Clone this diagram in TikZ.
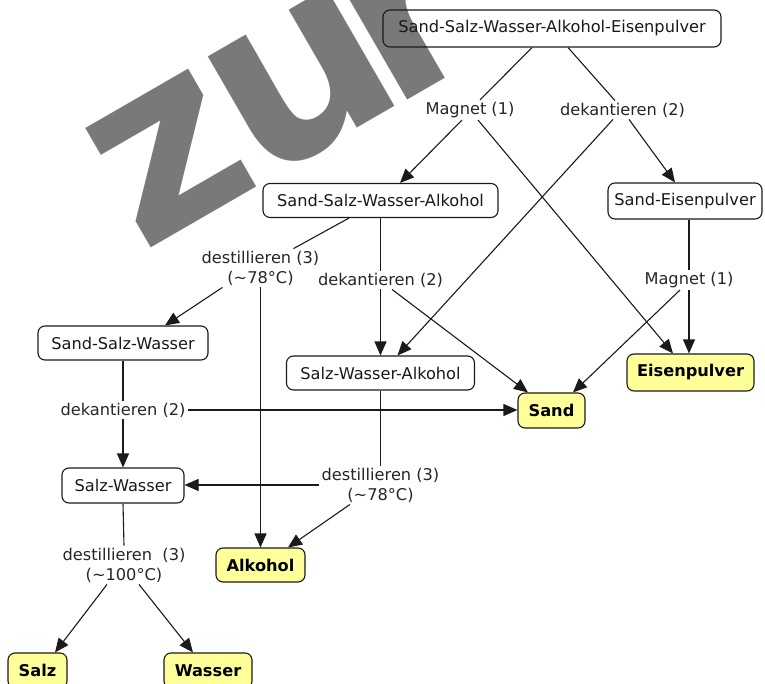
\documentclass[tikz,border=0pt]{standalone}
\usepackage{fontspec}
\setmainfont{DejaVu Sans}
\usetikzlibrary{arrows.meta,calc}
\definecolor{boxyellow}{HTML}{FFFF99}
\definecolor{wmgray}{RGB}{122,120,122}
\definecolor{edgecol}{HTML}{1A1A1A}
\tikzset{
  box/.style={draw=edgecol, line width=1.1pt, rounded corners=7pt, inner sep=2pt,
    font=\fontsize{16.2}{20}\selectfont, text=black!90, minimum height=34pt},
  endbox/.style={box, fill=boxyellow, font=\fontsize{16.2}{20}\selectfont\bfseries, text=black},
  lbl/.style={inner sep=2pt, align=center, font=\fontsize{16.2}{20}\selectfont, text=black!85},
  conn/.style={draw=edgecol, line width=1.1pt},
  arr/.style={conn, -{Triangle[length=14pt,width=12pt]}}
}
\begin{document}
\begin{tikzpicture}[x=1pt,y=-1pt]
\useasboundingbox (0,0) rectangle (765,684);
\clip (0,0) rectangle (765,684);
% watermark
\node[rotate=30, anchor=base west, inner sep=0pt, text=wmgray,
  font=\fontsize{249}{249}\selectfont\bfseries] (wm) at (141,253.5) {z\kern-8pt u\kern-28pt r};

% nodes
\node[box, minimum width=338pt, minimum height=37pt] (top) at (552,28.5) {Sand-Salz-Wasser-Alkohol-Eisenpulver};
\node[lbl] (m1) at (470,110) {Magnet (1)};
\node[lbl] (d1) at (622.5,110) {dekantieren (2)};
\node[box, minimum width=235pt] (sswa) at (380.5,200.5) {Sand-Salz-Wasser-Alkohol};
\node[box, minimum width=154pt, minimum height=36pt] (se) at (685,201) {Sand-Eisenpulver};
\node[lbl] (ds1) at (260.5,268) {destillieren (3)\\(\textasciitilde78°C)};
\node[lbl] (d2) at (380.5,280) {dekantieren (2)};
\node[lbl] (m2) at (689,280) {Magnet (1)};
\node[box, minimum width=170pt] (ssw) at (123,343) {Sand-Salz-Wasser};
\node[box, minimum width=188pt] (swa) at (380.5,373) {Salz-Wasser-Alkohol};
\node[endbox, minimum width=127pt, minimum height=37pt] (eisen) at (690.5,372.5) {Eisenpulver};
\node[endbox, minimum width=67pt, minimum height=35pt] (sand) at (551.5,410.5) {Sand};
\node[lbl] (d3) at (123,410) {dekantieren (2)};
\node[box, minimum width=122pt, minimum height=35pt] (sw) at (123,485.5) {Salz-Wasser};
\node[lbl] (ds2) at (380.5,485) {destillieren (3)\\(\textasciitilde78°C)};
\node[endbox, minimum width=89pt] (alk) at (260.5,565) {Alkohol};
\node[lbl] (ds3) at (124,565) {destillieren\ \ (3)\\(\textasciitilde100°C)};
\node[endbox, minimum width=59pt, minimum height=35pt] (salz) at (37.5,670.5) {Salz};
\node[endbox, minimum width=88pt, minimum height=35pt] (wasser) at (208,670.5) {Wasser};

% connectors
\draw[conn] ([xshift=-20pt]top.south) -- ([xshift=10pt]m1.north);
\draw[arr] ([xshift=-8pt]m1.south) -- ([xshift=19.5pt]sswa.north);
\draw[arr] ([xshift=8pt]m1.south) -- ([xshift=-17.5pt]eisen.north);
\draw[conn] ([xshift=16pt]top.south) -- ([xshift=-7.5pt]d1.north);
\draw[arr] ([xshift=6.5pt]d1.south) -- ([xshift=-10pt]se.north);
\draw[arr] ([xshift=-9.5pt]d1.south) -- ([xshift=17pt]swa.north);
\draw[conn] ([xshift=-31.5pt]sswa.south) -- ([xshift=33pt]ds1.north);
\draw[arr] ([xshift=-38pt]ds1.south) -- ([xshift=42pt]ssw.north);
\draw[arr] (ds1.south) -- (alk.north);
\draw[conn] (sswa.south) -- (d2.north);
\draw[arr] (d2.south) -- (swa.north);
\draw[arr] ([xshift=11.5pt]d2.south) -- ([xshift=-23.5pt]sand.north);
\draw[conn] ([xshift=4pt]se.south) -- (m2.north);
\draw[arr] (m2.south) -- ([xshift=-1.5pt]eisen.north);
\draw[arr] ([xshift=-9pt]m2.south) -- ([xshift=21.5pt]sand.north);
\draw[conn] (ssw.south) -- (d3.north);
\draw[arr] (d3.east) -- (d3.east -| sand.west);
\draw[arr] (d3.south) -- (sw.north);
\draw[conn] (swa.south) -- (ds2.north);
\draw[arr] (ds2.west) -- (ds2.west -| sw.east);
\draw[arr] ([xshift=-30.5pt]ds2.south) -- ([xshift=27.5pt]alk.north);
\draw[conn] (sw.south) -- (ds3.north);
\draw[arr] ([xshift=-17pt]ds3.south) -- ([xshift=17.5pt]salz.north);
\draw[arr] ([xshift=15pt]ds3.south) -- ([xshift=-15pt]wasser.north);
\end{tikzpicture}
\end{document}
